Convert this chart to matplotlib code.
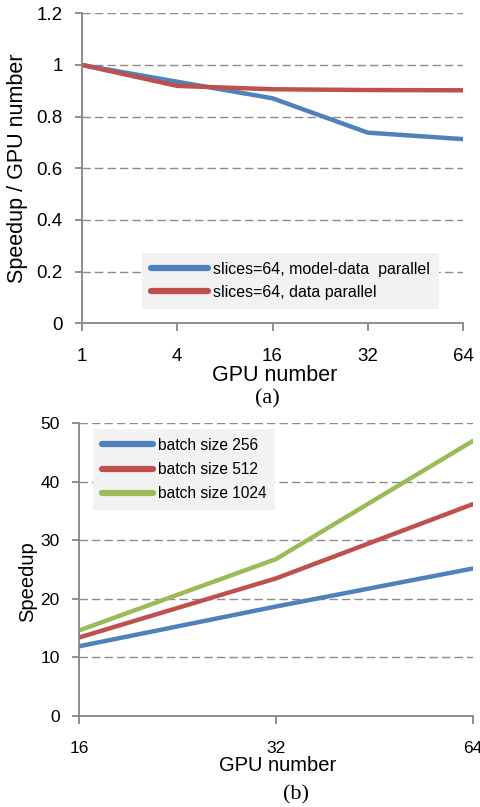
import matplotlib
matplotlib.use("Agg")
import matplotlib.pyplot as plt

# data for (a)
gpus_a = ["1", "4", "16", "32", "64"]
model_data = [1.0, 0.935, 0.871, 0.738, 0.713]
data_par = [1.0, 0.919, 0.906, 0.903, 0.902]

# data for (b)
gpus_b = ["16", "32", "64"]
batch_256 = [11.9, 18.7, 25.2]
batch_512 = [13.4, 23.5, 36.2]
batch_1024 = [14.6, 26.8, 47.0]

BLUE = "#4f81bd"
RED = "#c0504d"
GREEN = "#9bbb59"
AXIS_GREY = "#868686"
GRID_GREY = "#8c8c8c"

plt.rcParams["font.family"] = ["Liberation Sans", "DejaVu Sans"]

fig = plt.figure(figsize=(4.81, 8.07), dpi=100)


def style_axes(ax, tick_size):
    for s in ["top", "right"]:
        ax.spines[s].set_visible(False)
    for s in ["left", "bottom"]:
        ax.spines[s].set_color(AXIS_GREY)
        ax.spines[s].set_linewidth(1.3)
    ax.grid(axis="y", linestyle=(0, (6, 3)), color=GRID_GREY, linewidth=1.0)
    ax.set_axisbelow(True)
    ax.tick_params(axis="y", length=5, width=1.3, color=AXIS_GREY, pad=9, labelsize=tick_size)
    ax.tick_params(axis="x", length=6, width=1.3, color=AXIS_GREY, pad=12, labelsize=tick_size)


# (a)
ax1 = fig.add_axes([0.1705, 0.5994, 0.7921, 0.3841])
x_a = range(len(gpus_a))
ax1.plot(x_a, model_data, color=BLUE, lw=3.2, solid_capstyle="round", label="slices=64, model-data  parallel")
ax1.plot(x_a, data_par, color=RED, lw=3.2, solid_capstyle="round", label="slices=64, data parallel")
ax1.set_xlim(0, len(gpus_a) - 1)
ax1.set_ylim(0, 1.2)
ax1.set_xticks(list(x_a))
ax1.set_xticklabels(gpus_a)
ax1.set_yticks([0, 0.2, 0.4, 0.6, 0.8, 1.0, 1.2])
ax1.set_yticklabels(["0", "0.2", "0.4", "0.6", "0.8", "1", "1.2"])
style_axes(ax1, 13.5)
ax1.set_xlabel("GPU number", fontsize=15.5)
ax1.xaxis.set_label_coords(0.507, -0.135)
ax1.set_ylabel("Speedup / GPU number", fontsize=15.5)
ax1.yaxis.set_label_coords(-0.142, 0.5)
leg1 = ax1.legend(loc="upper left", bbox_to_anchor=(0.157, 0.226), fontsize=11.5, frameon=True,
                  fancybox=False, handlelength=3.6, handletextpad=0.3, borderpad=0.55,
                  labelspacing=0.5, borderaxespad=0)
leg1.get_frame().set_facecolor("#f2f2f2")
leg1.get_frame().set_edgecolor("none")
leg1.get_frame().set_alpha(1)
for l in leg1.get_lines():
    l.set_linewidth(4.5)

fig.text(0.555, 1 - 399 / 807, "(a)", family="Liberation Serif", fontsize=16, ha="center", va="center")

# (b)
ax2 = fig.add_axes([0.1642, 0.1128, 0.8192, 0.3627])
x_b = range(len(gpus_b))
ax2.plot(x_b, batch_256, color=BLUE, lw=3.2, solid_capstyle="round", label="batch size 256")
ax2.plot(x_b, batch_512, color=RED, lw=3.2, solid_capstyle="round", label="batch size 512")
ax2.plot(x_b, batch_1024, color=GREEN, lw=3.2, solid_capstyle="round", label="batch size 1024")
ax2.set_xlim(0, len(gpus_b) - 1)
ax2.set_ylim(0, 50)
ax2.set_xticks(list(x_b))
ax2.set_xticklabels(gpus_b)
ax2.set_yticks(range(0, 51, 10))
style_axes(ax2, 12.5)
ax2.set_xlabel("GPU number", fontsize=14.5)
ax2.xaxis.set_label_coords(0.505, -0.138)
ax2.set_ylabel("Speedup", fontsize=14.5)
ax2.yaxis.set_label_coords(-0.107, 0.46)
leg2 = ax2.legend(loc="upper left", bbox_to_anchor=(0.036, 0.98), fontsize=11.2, frameon=True,
                  fancybox=False, handlelength=3.3, handletextpad=0.3, borderpad=0.55,
                  labelspacing=0.6, borderaxespad=0)
leg2.get_frame().set_facecolor("#f2f2f2")
leg2.get_frame().set_edgecolor("none")
leg2.get_frame().set_alpha(1)
for l in leg2.get_lines():
    l.set_linewidth(4.5)

fig.text(0.615, 1 - 795 / 807, "(b)", family="Liberation Serif", fontsize=16, ha="center", va="center")

fig.savefig("out.png", dpi=100)
